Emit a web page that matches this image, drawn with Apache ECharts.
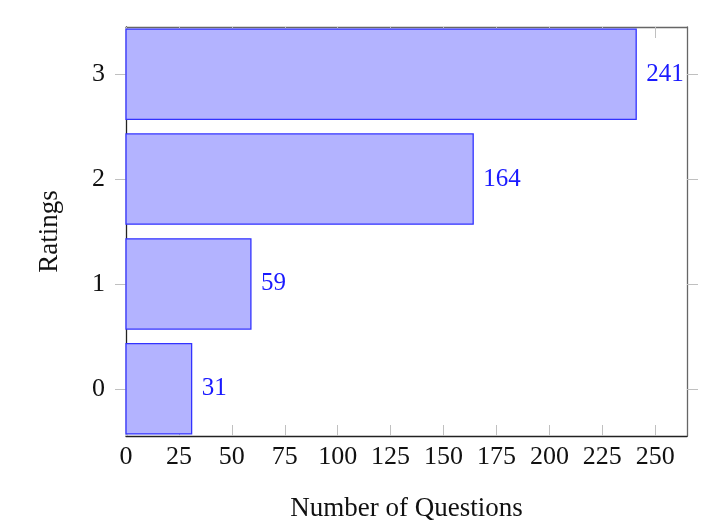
<!DOCTYPE html>
<html><head><meta charset="utf-8">
<script src="https://cdn.jsdelivr.net/npm/echarts@6/dist/echarts.min.js"></script>
<style>html,body{margin:0;padding:0;background:#fff}#c{width:718px;height:530px}</style>
</head><body><div id="c"></div>
<script>
const ratings = [0, 1, 2, 3];
const counts = [31, 59, 164, 241];
const xTicks = [0, 25, 50, 75, 100, 125, 150, 175, 200, 225, 250];
const yTicks = [0, 1, 2, 3];

const FONT = 'Liberation Serif';
const BLUE = '#1a1aff';
const data = counts.map((c, i) => [c, ratings[i]]);

const chart = echarts.init(document.getElementById('c'));
const halfBar = 0.43;
chart.setOption({
  animation: false,
  grid: {left: 126, right: 31, top: 27, bottom: 94, containLabel: false},
  xAxis: [{
    type: 'value', min: 0, max: 265, position: 'bottom',
    splitLine: {show: false},
    axisLine: {show: true, onZero: false, lineStyle: {color: '#222', width: 1.3}},
    axisTick: {show: true, inside: true, length: 11, customValues: xTicks, lineStyle: {color: '#c0c0c0'}},
    axisLabel: {customValues: xTicks, fontFamily: FONT, fontSize: 26, color: '#111', margin: 8},
    name: 'Number of Questions', nameLocation: 'middle', nameGap: 59,
    nameTextStyle: {fontFamily: FONT, fontSize: 27, color: '#111'}
  }, {
    type: 'value', min: 0, max: 265, position: 'top',
    splitLine: {show: false},
    axisLine: {show: true, onZero: false, lineStyle: {color: '#666', width: 1.3}},
    axisTick: {show: true, inside: true, length: 11, customValues: xTicks, lineStyle: {color: '#c0c0c0'}},
    axisLabel: {show: false}
  }],
  yAxis: [{
    type: 'value', min: -0.45, max: 3.45, position: 'left',
    splitLine: {show: false},
    axisLine: {show: true, onZero: false, lineStyle: {color: '#222', width: 1.3}},
    axisTick: {show: true, inside: false, length: 11, customValues: yTicks, lineStyle: {color: '#c0c0c0'}},
    axisLabel: {customValues: yTicks, fontFamily: FONT, fontSize: 26, color: '#111', margin: 21},
    name: 'Ratings', nameLocation: 'middle', nameGap: 63, nameRotate: 90,
    nameTextStyle: {fontFamily: FONT, fontSize: 27, color: '#111'}
  }, {
    type: 'value', min: -0.45, max: 3.45, position: 'right',
    splitLine: {show: false},
    axisLine: {show: true, onZero: false, lineStyle: {color: '#666', width: 1.3}},
    axisTick: {show: true, inside: false, length: 11, customValues: yTicks, lineStyle: {color: '#c0c0c0'}},
    axisLabel: {show: false}
  }],
  series: [{
    type: 'custom',
    xAxisIndex: 0, yAxisIndex: 0,
    data: data,
    encode: {x: 0, y: 1},
    clip: false,
    renderItem: function (params, api) {
      const v = api.value(0), r = api.value(1);
      const p0 = api.coord([0, r + halfBar]);
      const p1 = api.coord([v, r - halfBar]);
      const pc = api.coord([v, r]);
      return {
        type: 'group',
        children: [{
          type: 'rect',
          shape: {x: p0[0], y: p0[1], width: p1[0] - p0[0], height: p1[1] - p0[1]},
          style: {fill: '#b3b3ff', stroke: '#3333ff', lineWidth: 1.3}
        }, {
          type: 'text',
          x: pc[0] + 10, y: pc[1],
          style: {text: String(v), fill: BLUE, font: '25px "' + FONT + '"', textAlign: 'left', textVerticalAlign: 'middle'}
        }]
      };
    }
  }]
});
</script></body></html>
